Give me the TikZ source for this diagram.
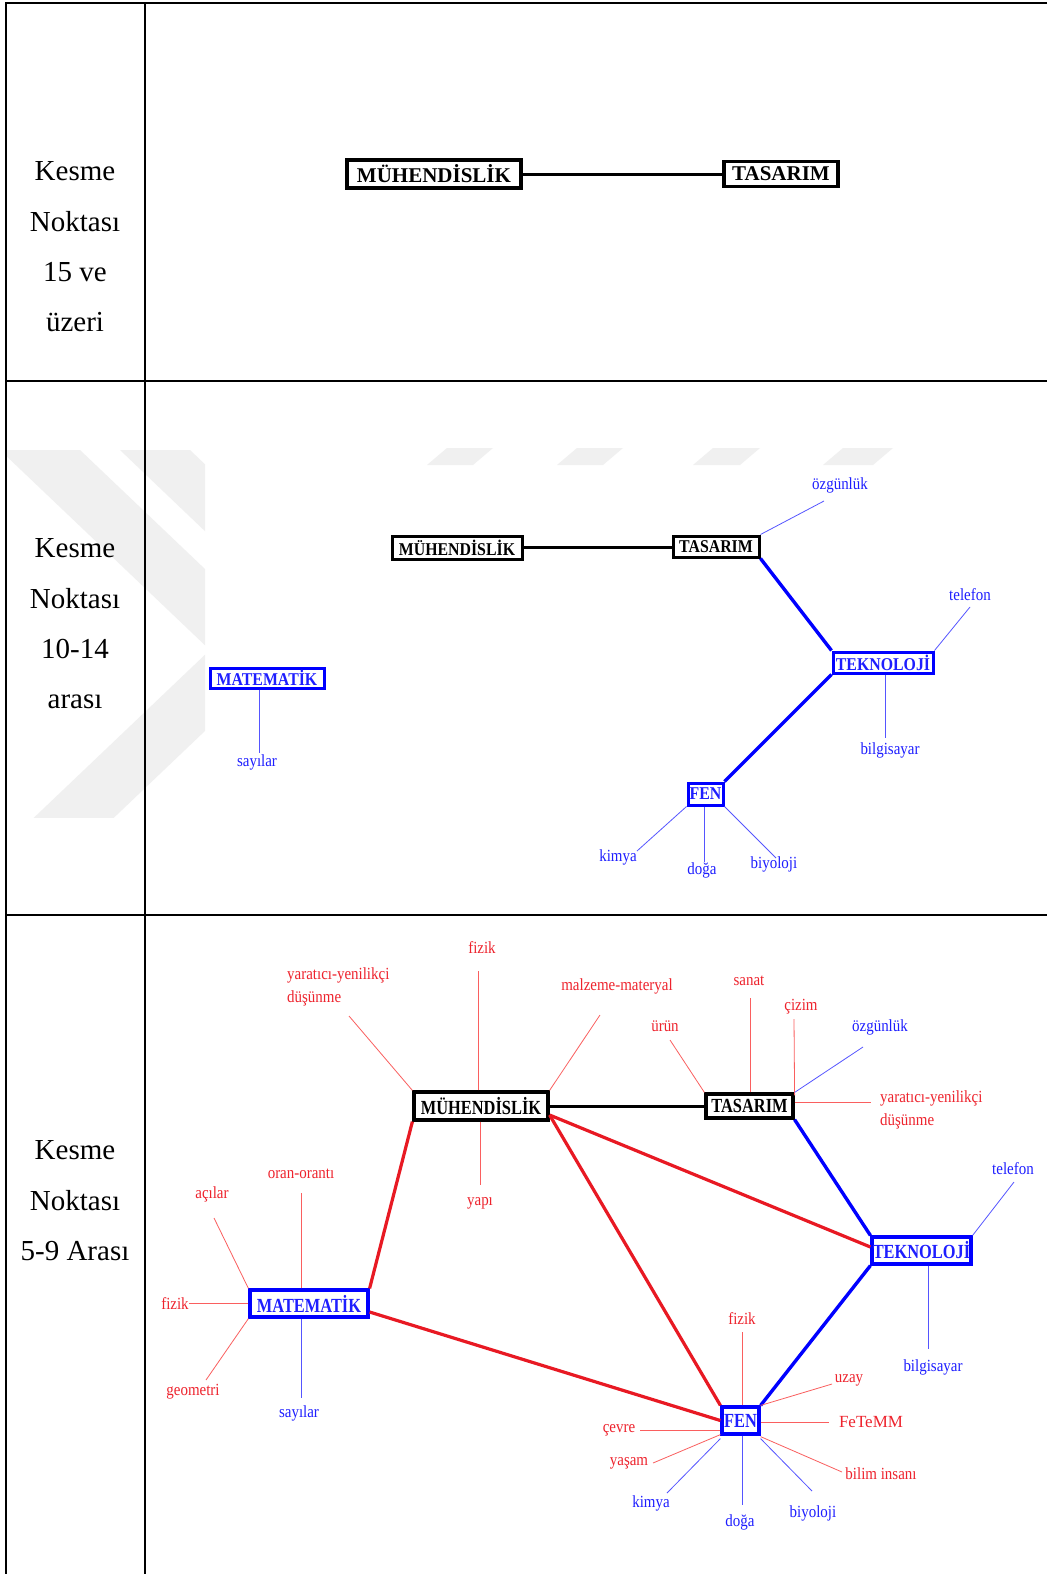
\documentclass[tikz,border=0pt]{standalone}
\usepackage{fontspec}
\setmainfont{Liberation Serif}
\usepackage{graphicx}
\definecolor{tred}{RGB}{238,35,45}
\definecolor{lred}{RGB}{250,95,95}
\definecolor{cred}{RGB}{232,25,35}
\definecolor{tblue}{RGB}{30,30,255}
\definecolor{lblue}{RGB}{85,85,255}
\definecolor{cblue}{RGB}{0,0,255}
\definecolor{wmark}{RGB}{240,240,240}
\newcommand\sqa[1]{\scalebox{0.88}[1]{#1}}
\newcommand\sqb[1]{\scalebox{0.82}[1]{#1}}
\newcommand\labfont{\fontsize{17}{20}\selectfont}
\tikzset{
  colfont/.style={font=\fontsize{29}{29}\selectfont, inner sep=0pt, anchor=base},
  bxa/.style={draw, line width=3.4pt, inner sep=0pt, font=\bfseries\fontsize{21}{21}\selectfont},
  bxb/.style={draw, line width=3pt, inner sep=0pt, font=\bfseries\fontsize{18}{18}\selectfont},
  bxc/.style={draw, line width=3.2pt, inner sep=0pt, font=\bfseries\fontsize{20}{20}\selectfont},
  blk/.style={draw=black, text=black},
  blu/.style={draw=cblue, text=tblue},
  rlab/.style={inner sep=0pt, font=\labfont, text=tred},
  blab/.style={inner sep=0pt, font=\labfont, text=tblue},
  rs/.style={draw=lred, line width=0.8pt},
  bs/.style={draw=lblue, line width=0.8pt},
  kcon/.style={draw=black, line width=3pt},
  bcon/.style={draw=cblue, line width=3.4pt},
  rcon/.style={draw=cred, line width=3.2pt},
  tline/.style={line width=2pt}
}
\begin{document}
\begin{tikzpicture}[x=1pt,y=-1pt]
\useasboundingbox (0,0) rectangle (1047,1574);
\fill[white] (0,0) rectangle (1047,1574);
% watermark
\begin{scope}
\clip (7,448) rectangle (205,817);
\fill[wmark] (0,450) -- (80,450) -- (290,650) -- (210,650) -- cycle;
\fill[wmark] (210,650) -- (290,650) -- (80,850) -- (0,850) -- cycle;
\fill[wmark] (120,450) -- (190,450) -- (300,555) -- (230,555) -- cycle;
\end{scope}
\fill[wmark] (427,465) -- (447,448) -- (493,448) -- (473,465) -- cycle;
\fill[wmark] (557,465) -- (577,448) -- (623,448) -- (603,465) -- cycle;
\fill[wmark] (693,465) -- (713,448) -- (760,448) -- (740,465) -- cycle;
\fill[wmark] (823,465) -- (843,448) -- (893,448) -- (873,465) -- cycle;
% table
\draw[tline] (1047,3) -- (6,3) -- (6,1574);
\draw[tline] (145,3) -- (145,1574);
\draw[tline] (6,381) -- (1047,381);
\draw[tline] (6,915) -- (1047,915);
% left column
\node[colfont] (r1a) at (75,180) {Kesme};
\node[colfont] (r1b) at (75,231) {Noktası};
\node[colfont] (r1c) at (75,281) {15 ve};
\node[colfont] (r1d) at (75,331) {üzeri};
\node[colfont] (r2a) at (75,557) {Kesme};
\node[colfont] (r2b) at (75,608) {Noktası};
\node[colfont] (r2c) at (75,658) {10-14};
\node[colfont] (r2d) at (75,708) {arası};
\node[colfont] (r3a) at (75,1159) {Kesme};
\node[colfont] (r3b) at (75,1210) {Noktası};
\node[colfont] (r3c) at (75,1260) {5-9 Arası};
% ---------- row 1
\node[bxa, blk, minimum width=174pt, minimum height=28pt] (m1) at (434,174) {MÜHENDİSLİK};
\node[bxa, blk, minimum width=114pt, minimum height=25pt] (t1) at (781,174) {TASARIM};
\draw[kcon] (m1.east) -- (t1.west);
% ---------- row 2
\node[bxb, blk, minimum width=130pt, minimum height=23pt] (m2) at (457,547.5) {\sqa{MÜHENDİSLİK}};
\node[bxb, blk, minimum width=86pt, minimum height=21pt] (t2) at (716,546.5) {\sqa{TASARIM}};
\node[bxb, blu, minimum width=100pt, minimum height=21pt] (k2) at (883,662.5) {\sqa{TEKNOLOJİ}};
\node[bxb, blu, minimum width=35pt, minimum height=22pt] (f2) at (705.5,794) {\sqa{FEN}};
\node[bxb, blu, minimum width=114pt, minimum height=20pt] (a2) at (267,678) {\sqa{MATEMATİK}};
\draw[kcon] (m2.east) -- (m2.east -| t2.west);
\draw[bcon] (t2.south east) -- (k2.north west);
\draw[bcon] (k2.south west) -- (f2.north east);
\node[blab] (l2a) at (840,485) {\sqa{özgünlük}};
\node[blab] (l2b) at (970,595) {\sqa{telefon}};
\node[blab] (l2c) at (890,750) {\sqa{bilgisayar}};
\node[blab] (l2d) at (257,762) {\sqa{sayılar}};
\node[blab] (l2e) at (618,857) {\sqa{kimya}};
\node[blab] (l2f) at (702,870) {\sqa{doğa}};
\node[blab] (l2g) at (774,864) {\sqa{biyoloji}};
\coordinate (e2a) at (824,501);
\coordinate (e2b) at (970,607);
\coordinate (e2c) at (885,738);
\coordinate (e2d) at (259,753);
\coordinate (e2e) at (637,851);
\coordinate (e2f) at (704,862);
\coordinate (e2g) at (776,858);
\draw[bs] (t2.north east) -- (e2a);
\draw[bs] (k2.north east) -- (e2b);
\draw[bs] (k2.south -| e2c) -- (e2c);
\draw[bs] (a2.south -| e2d) -- (e2d);
\draw[bs] (f2.south west) -- (e2e);
\draw[bs] (f2.south -| e2f) -- (e2f);
\draw[bs] (f2.south east) -- (e2g);
% ---------- row 3
\node[bxc, blk, minimum width=134pt, minimum height=28pt] (m3) at (481,1106) {\sqb{MÜHENDİSLİK}};
\node[bxc, blk, minimum width=87pt, minimum height=24pt] (t3) at (749.5,1106) {\sqb{TASARIM}};
\node[bxc, blu, minimum width=99pt, minimum height=27pt] (k3) at (921.5,1250.5) {\sqb{TEKNOLOJİ}};
\node[bxc, blu, minimum width=37pt, minimum height=27pt] (f3) at (740.5,1420.5) {\sqb{FEN}};
\node[bxc, blu, minimum width=118pt, minimum height=27pt] (a3) at (309,1303.5) {\sqb{MATEMATİK}};
\draw[kcon] (m3.east) -- (m3.east -| t3.west);
\draw[bcon] (t3.south east) -- (k3.north west);
\draw[bcon] (k3.south west) -- (f3.north east);
\draw[rcon] ([yshift=-9pt]m3.east) -- ([yshift=3.5pt]k3.west);
\draw[rcon] ([yshift=-9pt]m3.east) -- (f3.north west);
\draw[rcon] (m3.south west) -- (a3.north east);
\draw[rcon] ([yshift=-8.5pt]a3.east) -- (f3.west);
% labels row 3
\node[rlab] (n1) at (482,948) {\sqa{fizik}};
\node[rlab, anchor=west] (n2a) at (287,975) {\sqa{yaratıcı-yenilikçi}};
\node[rlab, anchor=west] (n2b) at (287,998) {\sqa{düşünme}};
\node[rlab] (n3) at (617,986) {\sqa{malzeme-materyal}};
\node[rlab] (n4) at (480,1203) {\sqa{yapı}};
\node[rlab] (n5) at (665,1026) {\sqa{ürün}};
\node[rlab] (n6) at (749,981) {\sqa{sanat}};
\node[rlab] (n7) at (801,1007) {\sqa{çizim}};
\node[blab] (n8) at (880,1027) {\sqa{özgünlük}};
\node[rlab, anchor=west] (n9a) at (880,1098) {\sqa{yaratıcı-yenilikçi}};
\node[rlab, anchor=west] (n9b) at (880,1121) {\sqa{düşünme}};
\node[blab] (n10) at (1013,1169) {\sqa{telefon}};
\node[blab] (n11) at (933,1367) {\sqa{bilgisayar}};
\node[rlab] (n12) at (301,1174) {\sqa{oran-orantı}};
\node[rlab] (n13) at (212,1194) {\sqa{açılar}};
\node[rlab] (n14) at (175,1303) {\sqa{fizik}};
\node[rlab] (n15) at (193,1392) {\sqa{geometri}};
\node[blab] (n16) at (299,1413) {\sqa{sayılar}};
\node[rlab] (n17) at (742,1318) {\sqa{fizik}};
\node[rlab] (n18) at (849,1380) {\sqa{uzay}};
\node[rlab] (n19) at (871,1422) {FeTeMM};
\node[rlab] (n20) at (881,1474) {\sqa{bilim insanı}};
\node[blab] (n21) at (813,1513) {\sqa{biyoloji}};
\node[blab] (n22) at (740,1522) {\sqa{doğa}};
\node[blab] (n23) at (651,1503) {\sqa{kimya}};
\node[rlab] (n24) at (629,1463) {\sqa{yaşam}};
\node[rlab] (n25) at (619,1430) {\sqa{çevre}};
% spoke ends row 3
\coordinate (s1) at (478,971);
\coordinate (s2) at (349,1016);
\coordinate (s3) at (600,1015);
\coordinate (s4) at (480,1185);
\coordinate (s5) at (670,1040);
\coordinate (s6) at (750,998);
\coordinate (s7) at (794,1019);
\coordinate (s8) at (863,1047);
\coordinate (s9) at (871,1102);
\coordinate (s10) at (1014,1182);
\coordinate (s11) at (928,1349);
\coordinate (s12) at (301,1193);
\coordinate (s13) at (214,1218);
\coordinate (s14) at (189,1303);
\coordinate (s15) at (206,1380);
\coordinate (s16) at (301,1398);
\coordinate (s17) at (742,1332);
\coordinate (s18) at (832,1384);
\coordinate (s19) at (829,1422);
\coordinate (s20) at (842,1472);
\coordinate (s21) at (812,1491);
\coordinate (s22) at (742,1505);
\coordinate (s23) at (667,1493);
\coordinate (s24) at (653,1463);
\coordinate (s25) at (640,1430);
\draw[rs] (m3.north -| s1) -- (s1);
\draw[rs] (m3.north west) -- (s2);
\draw[rs] (m3.north east) -- (s3);
\draw[rs] (m3.south -| s4) -- (s4);
\draw[rs] (t3.north west) -- (s5);
\draw[rs] (t3.north -| s6) -- (s6);
\draw[rs] ([yshift=-3pt]t3.north east) -- (s7);
\draw[bs] (t3.north east) -- (s8);
\draw[rs] (t3.east |- s9) -- (s9);
\draw[bs] (k3.north east) -- (s10);
\draw[bs] (k3.south -| s11) -- (s11);
\draw[rs] (a3.north -| s12) -- (s12);
\draw[rs] (a3.north west) -- (s13);
\draw[rs] (a3.west |- s14) -- (s14);
\draw[rs] (a3.south west) -- (s15);
\draw[bs] (a3.south -| s16) -- (s16);
\draw[rs] (f3.north -| s17) -- (s17);
\draw[rs] (f3.north east) -- (s18);
\draw[rs] (f3.east |- s19) -- (s19);
\draw[rs] ([yshift=-1pt]f3.south east) -- (s20);
\draw[bs] ([yshift=-3pt]f3.south east) -- (s21);
\draw[bs] (f3.south -| s22) -- (s22);
\draw[bs] ([yshift=-3pt]f3.south west) -- (s23);
\draw[rs] ([yshift=1pt]f3.south west) -- (s24);
\draw[rs] (f3.west |- s25) -- (s25);
\end{tikzpicture}
\end{document}
